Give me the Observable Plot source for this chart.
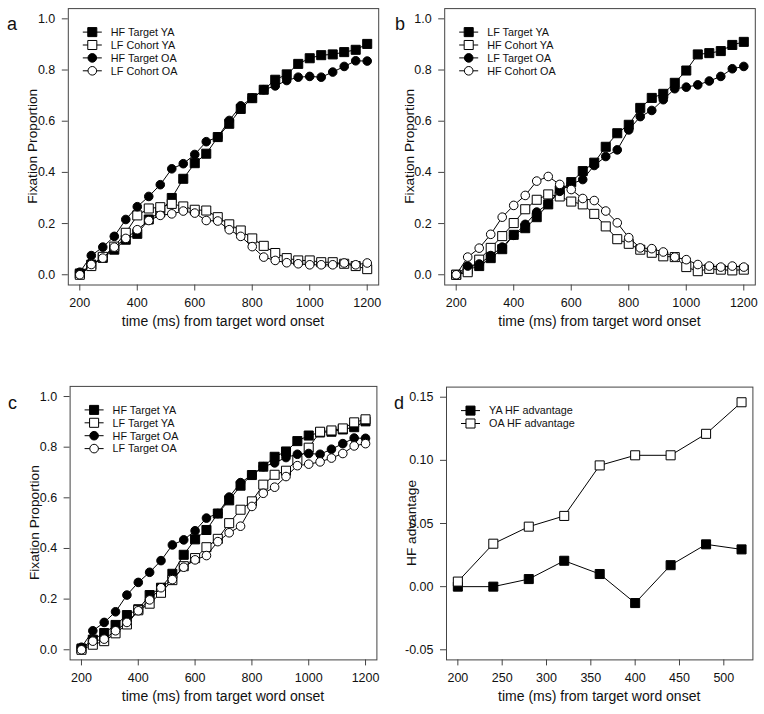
<!DOCTYPE html>
<html><head><meta charset="utf-8">
<script src="https://cdn.jsdelivr.net/npm/d3@7"></script>
<script src="https://cdn.jsdelivr.net/npm/@observablehq/plot@0.6"></script>
<style>
body{margin:0;background:#fff;}
#wrap{position:relative;width:764px;height:714px;font-family:"Liberation Sans",Arial,sans-serif;}
.panel{position:absolute;}
.panel svg{display:block;overflow:visible;}
</style></head><body><div id="wrap"></div>
<script>
// ---- data ----
const time = [200,240,280,320,360,400,440,480,520,560,600,640,680,720,760,800,840,880,920,960,1000,1040,1080,1120,1160,1200];
const hfTargetYA = [0.005,0.04,0.066,0.098,0.137,0.16,0.216,0.245,0.30,0.375,0.436,0.473,0.538,0.59,0.648,0.69,0.723,0.762,0.783,0.824,0.846,0.858,0.861,0.87,0.879,0.902];
const hfTargetOA = [0.01,0.075,0.108,0.15,0.216,0.266,0.306,0.352,0.414,0.434,0.47,0.52,0.538,0.603,0.66,0.69,0.723,0.738,0.759,0.772,0.775,0.772,0.792,0.814,0.836,0.835];
const lfCohortYA = [0.0,0.034,0.07,0.11,0.164,0.232,0.259,0.264,0.277,0.267,0.254,0.251,0.225,0.197,0.173,0.142,0.113,0.085,0.065,0.056,0.056,0.049,0.049,0.043,0.034,0.022];
const lfCohortOA = [0.0,0.04,0.065,0.108,0.142,0.176,0.212,0.232,0.238,0.249,0.241,0.212,0.21,0.176,0.15,0.11,0.069,0.056,0.047,0.043,0.039,0.039,0.039,0.046,0.039,0.046];
const lfTargetYA = [0.0,0.02,0.034,0.065,0.1,0.156,0.182,0.225,0.275,0.33,0.362,0.405,0.438,0.5,0.553,0.586,0.652,0.691,0.707,0.75,0.798,0.861,0.866,0.874,0.898,0.91];
const lfTargetOA = [0.0,0.034,0.042,0.075,0.108,0.154,0.197,0.245,0.277,0.326,0.355,0.372,0.427,0.462,0.488,0.566,0.618,0.642,0.684,0.727,0.733,0.742,0.757,0.775,0.805,0.814];
const hfCohortYA = [0.0,0.01,0.059,0.105,0.151,0.202,0.256,0.293,0.314,0.306,0.286,0.275,0.238,0.189,0.139,0.121,0.098,0.086,0.072,0.069,0.03,0.014,0.023,0.02,0.017,0.02];
const hfCohortOA = [0.0,0.069,0.104,0.158,0.225,0.271,0.31,0.366,0.384,0.353,0.333,0.298,0.29,0.249,0.203,0.145,0.105,0.102,0.089,0.069,0.059,0.04,0.034,0.03,0.034,0.03];
const advTime = [200,240,280,320,360,400,440,480,520];
const yaAdv = [0.0,0.0,0.006,0.0205,0.01,-0.013,0.017,0.0335,0.0295];
const oaAdv = [0.004,0.034,0.0475,0.056,0.096,0.104,0.104,0.121,0.146];
const xTicksA = [200,400,600,800,1000,1200];
const yTicksA = [0,0.2,0.4,0.6,0.8,1.0];
const xTicksD = [200,250,300,350,400,450,500];
const yTicksD = [-0.05,0,0.05,0.1,0.15];
const xTitle = "time (ms) from target word onset";

const SQ_R = 5.1, CI_R = 4.3;
const wrap = document.getElementById("wrap");

function panel(cfg) {
  const marks = [
    Plot.frame({stroke: "#444"}),
    Plot.axisX({ticks: cfg.xTicks, tickFormat: d => String(d), tickSize: 6, tickPadding: 7, fontSize: 12.5, label: null, stroke: "#444"}),
    Plot.axisY({ticks: cfg.yTicks, tickFormat: cfg.yFormat, tickSize: 6, tickPadding: 7, fontSize: 12.5, label: null, stroke: "#444"})
  ];
  for (const s of cfg.series) {
    const data = s.t.map((t, i) => ({t, v: s.v[i]}));
    marks.push(Plot.line(data, {x: "t", y: "v", stroke: "black", strokeWidth: 1}));
    marks.push(Plot.dot(data, {x: "t", y: "v", symbol: s.symbol, r: s.symbol === "square" ? SQ_R : CI_R,
      fill: s.filled ? "black" : "white", stroke: "black", strokeWidth: 1}));
  }
  const svg = Plot.plot({
    width: cfg.width, height: cfg.height,
    marginLeft: cfg.ml, marginRight: cfg.mr, marginTop: cfg.mt, marginBottom: cfg.mb,
    x: {domain: cfg.xDomain}, y: {domain: cfg.yDomain},
    style: {fontFamily: '"Liberation Sans", Arial, sans-serif', background: "transparent", color: "#111"},
    marks
  });
  const fx = cfg.ml, fy = cfg.mt, fw = cfg.width - cfg.ml - cfg.mr, fh = cfg.height - cfg.mt - cfg.mb;
  const g = d3.select(svg).append("g").attr("font-family", '"Liberation Sans", Arial, sans-serif')
    .attr("fill", "#111").attr("text-anchor", "start");
  // axis titles
  g.append("text").attr("x", fx + fw / 2).attr("y", fy + fh + 41.5).attr("text-anchor", "middle")
    .attr("font-size", 14).text(xTitle);
  g.append("text").attr("transform", `translate(${fx - 30.5},${fy + fh / 2}) rotate(-90)`).attr("text-anchor", "middle")
    .attr("font-size", 13.7).text(cfg.yTitle);
  // panel letter
  g.append("text").attr("x", cfg.letterX - cfg.left).attr("y", cfg.letterY - cfg.top).attr("text-anchor", "start")
    .attr("font-size", 18).text(cfg.letter);
  // legend
  cfg.series.forEach((s, i) => {
    const y = fy + 24 + i * 12.9;
    g.append("line").attr("x1", fx + 15).attr("x2", fx + 34).attr("y1", y).attr("y2", y).attr("stroke", "black");
    const r = s.symbol === "square" ? SQ_R : CI_R;
    const sym = s.symbol === "square" ? d3.symbolSquare : d3.symbolCircle;
    g.append("path").attr("d", d3.symbol(sym, r * r * Math.PI)()).attr("transform", `translate(${fx + 24.5},${y})`)
      .attr("fill", s.filled ? "black" : "white").attr("stroke", "black");
    g.append("text").attr("x", fx + 43).attr("y", y).attr("dy", "0.36em").attr("text-anchor", "start")
      .attr("font-size", 10.8).text(s.name);
  });
  const div = document.createElement("div");
  div.className = "panel";
  div.style.left = cfg.left + "px";
  div.style.top = cfg.top + "px";
  div.appendChild(svg);
  wrap.appendChild(div);
}

const f1 = d => d.toFixed(1);
const f2 = d => d.toFixed(2);

panel({left: 0, top: 0, width: 382, height: 340, ml: 67.8, mr: 3.8, mt: 8.1, mb: 55.5,
  xDomain: [160, 1240], yDomain: [-0.04, 1.04], xTicks: xTicksA, yTicks: yTicksA, yFormat: f1,
  yTitle: "Fixation Proportion", letter: "a", letterX: 7, letterY: 30,
  series: [
    {name: "HF Target YA", t: time, v: hfTargetYA, symbol: "square", filled: true},
    {name: "LF Cohort YA", t: time, v: lfCohortYA, symbol: "square", filled: false},
    {name: "HF Target OA", t: time, v: hfTargetOA, symbol: "circle", filled: true},
    {name: "LF Cohort OA", t: time, v: lfCohortOA, symbol: "circle", filled: false}
  ]});

panel({left: 382, top: 0, width: 382, height: 340, ml: 62.2, mr: 9.2, mt: 8.1, mb: 55.5,
  xDomain: [160, 1240], yDomain: [-0.04, 1.04], xTicks: xTicksA, yTicks: yTicksA, yFormat: f1,
  yTitle: "Fixation Proportion", letter: "b", letterX: 395, letterY: 30,
  series: [
    {name: "LF Target YA", t: time, v: lfTargetYA, symbol: "square", filled: true},
    {name: "HF Cohort YA", t: time, v: hfCohortYA, symbol: "square", filled: false},
    {name: "LF Target OA", t: time, v: lfTargetOA, symbol: "circle", filled: true},
    {name: "HF Cohort OA", t: time, v: hfCohortOA, symbol: "circle", filled: false}
  ]});

panel({left: 0, top: 378, width: 382, height: 336, ml: 69.6, mr: 5.6, mt: 7.9, mb: 54.6,
  xDomain: [160, 1240], yDomain: [-0.04, 1.04], xTicks: xTicksA, yTicks: yTicksA, yFormat: f1,
  yTitle: "Fixation Proportion", letter: "c", letterX: 8, letterY: 409,
  series: [
    {name: "HF Target YA", t: time, v: hfTargetYA, symbol: "square", filled: true},
    {name: "LF Target YA", t: time, v: lfTargetYA, symbol: "square", filled: false},
    {name: "HF Target OA", t: time, v: hfTargetOA, symbol: "circle", filled: true},
    {name: "LF Target OA", t: time, v: lfTargetOA, symbol: "circle", filled: false}
  ]});

panel({left: 382, top: 378, width: 382, height: 336, ml: 64, mr: 11.6, mt: 8.6, mb: 54.6,
  xDomain: [187.2, 532.8], yDomain: [-0.058, 0.158], xTicks: xTicksD, yTicks: yTicksD, yFormat: f2,
  yTitle: "HF advantage", letter: "d", letterX: 394, letterY: 409,
  series: [
    {name: "YA HF advantage", t: advTime, v: yaAdv, symbol: "square", filled: true},
    {name: "OA HF advantage", t: advTime, v: oaAdv, symbol: "square", filled: false}
  ]});
</script></body></html>
